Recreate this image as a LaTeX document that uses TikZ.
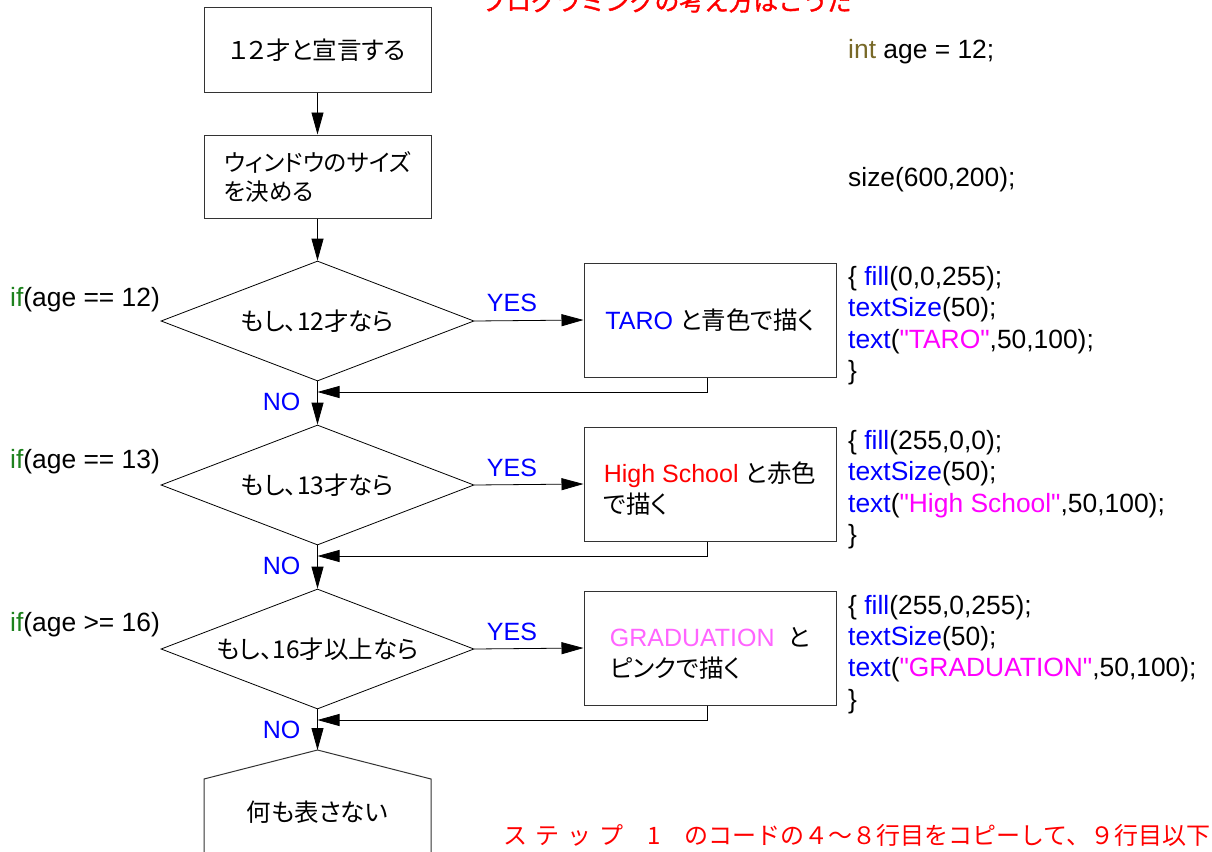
\documentclass[tikz,border=0pt]{standalone}
\usepackage{fontspec}
\setmainfont{Liberation Sans}[Ligatures=TeXOff]
\newfontfamily\jpfont[RawFeature=+palt]{Noto Sans CJK JP}
\newfontfamily\jpwfont{Noto Sans CJK JP}
\newfontfamily\jpbfont[FakeBold=1.5]{Noto Sans CJK JP}
\usetikzlibrary{shapes.geometric,arrows.meta}
\definecolor{kwblue}{RGB}{0,0,255}
\definecolor{strmag}{RGB}{255,0,255}
\definecolor{gradpink}{RGB}{255,100,255}
\definecolor{ifgreen}{RGB}{30,130,30}
\definecolor{intolive}{RGB}{120,105,40}
\newcommand{\jtext}[1]{{\jpfont\fontsize{24.5}{31}\selectfont #1}}
\newcommand{\jwtext}[1]{{\jpwfont\fontsize{24.5}{31}\selectfont #1}}
\newcommand{\kw}[1]{\textcolor{kwblue}{#1}}
\newcommand{\st}[1]{\textcolor{strmag}{#1}}
\begin{document}
\begin{tikzpicture}[x=1pt,y=-1pt,
  every node/.style={font=\fontsize{25}{31}\selectfont, inner sep=0},
  box/.style={draw=black!80, line width=1pt, minimum width=227, minimum height=84, align=left},
  actbox/.style={draw=black!80, line width=1pt, minimum width=252, minimum height=114, align=left},
  dia/.style={diamond, draw, line width=0.8pt, aspect=2.6, minimum width=313, minimum height=120},
  arr/.style={-{Triangle[length=22pt,width=12pt]}, line width=0.8pt},
  lbl/.style={text=kwblue},
  code/.style={anchor=base west, font=\fontsize{26.4}{31}\selectfont}
]
\path[use as bounding box, fill=white] (0,0) rectangle (1212,851);

% title (cut off at top)
\node[anchor=base, text=red] (title) at (667,10.5) {\jpbfont\fontsize{24.7}{30}\selectfont プログラミングの考え方はこうだ};

% flow boxes
\node[box] (b1) at (317.5,50) {\jtext{１２才と宣言する}};
\node[box, minimum height=83, font={\jpfont\fontsize{23.5}{29}\selectfont}] (b2) at (317.5,176.5) {ウィンドウのサイズ\\を決める};

\node[dia] (d1) at (317.5,321) {\jtext{もし、12才なら}};
\node[dia] (d2) at (317.5,485) {\jtext{もし、13才なら}};
\node[dia] (d3) at (317.5,649) {\jtext{もし、16才以上なら}};

\node[actbox] (b3) at (710,320) {\kw{TARO} \jtext{と青色で描く}};
\node[actbox] (b4) at (710,484) {\rule{0pt}{30pt}\textcolor{red}{High School} \jtext{と赤色}\\\jtext{で描く}};
\node[actbox] (b5) at (710,648) {\rule{0pt}{30pt}\textcolor{gradpink}{GRADUATION}\ \ \jtext{と}\\\jtext{ピンクで描く}};

% final shape
\coordinate (etop) at (317.5,750);
\draw[draw=black!80, line width=1pt] (204,870) -- (204,779) -- (etop) -- (431,779) -- (431,870);
\node (e) at (317.5,812) {\jtext{何も表さない}};

% connectors
\draw[arr] (b1.south) -- (b2.north);
\draw[arr] (b2.south) -- (d1.north);
\draw[arr] (d1.east) -- (b3.west);
\draw[arr] (d2.east) -- (b4.west);
\draw[arr] (d3.east) -- (b5.west);
\draw[arr] (d1.south) -- (d2.north);
\draw[arr] (d2.south) -- (d3.north);
\draw[arr] (d3.south) -- (etop);
\coordinate (m1) at (317.5,392);
\coordinate (m2) at (317.5,556);
\coordinate (m3) at (317.5,720);
\draw[arr] ([xshift=-3pt]b3.south) |- (m1);
\draw[arr] ([xshift=-3pt]b4.south) |- (m2);
\draw[arr] ([xshift=-3pt]b5.south) |- (m3);

% YES / NO labels
\node[lbl] (y1) at (512,303) {YES};
\node[lbl] (y2) at (512,468) {YES};
\node[lbl] (y3) at (512,632) {YES};
\node[lbl] (n1) at (281.5,402) {NO};
\node[lbl] (n2) at (281.5,566) {NO};
\node[lbl] (n3) at (281.5,730) {NO};

% if labels
\node[code] (if1) at (10,306) {\textcolor{ifgreen}{if}(age == 12)};
\node[code] (if2) at (10,468) {\textcolor{ifgreen}{if}(age == 13)};
\node[code] (if3) at (10,631) {\textcolor{ifgreen}{if}(age >= 16)};

% code
\node[code] (c0) at (848,59) {\textcolor{intolive}{int} age = 12;};
\node[code] (c1) at (848,186) {size(600,200);};

\node[code] (c11) at (848,285) {\{ \kw{fill}(0,0,255);};
\node[code] (c12) at (848,316) {\kw{textSize}(50);};
\node[code] (c13) at (848,348) {\kw{text}(\st{"TARO"},50,100);};
\node[code] (c14) at (848,379) {\}};

\node[code] (c21) at (848,449) {\{ \kw{fill}(255,0,0);};
\node[code] (c22) at (848,480) {\kw{textSize}(50);};
\node[code] (c23) at (848,512) {\kw{text}(\st{"High School"},50,100);};
\node[code] (c24) at (848,543) {\}};

\node[code] (c31) at (848,614) {\{ \kw{fill}(255,0,255);};
\node[code] (c32) at (848,645) {\kw{textSize}(50);};
\node[code] (c33) at (848,676) {\kw{text}(\st{"GRADUATION"},50,100);};
\node[code] (c34) at (848,708) {\}};

% bottom note (cut off at right/bottom)
\node[anchor=base west, text=red] (note) at (503,844) {\jpwfont\fontsize{24}{30}\selectfont ス\kern8pt テ\kern8pt ッ\kern8pt プ\kern24pt 1\kern24pt のコードの４〜８行目をコピーして、９行目以下};
\end{tikzpicture}
\end{document}
